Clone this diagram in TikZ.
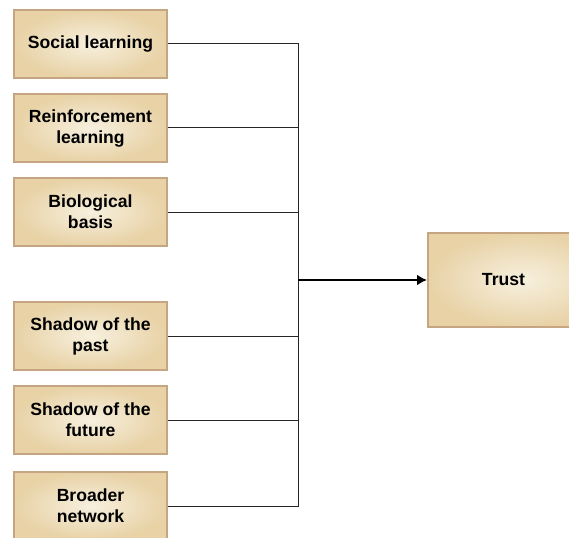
\documentclass[tikz,border=0pt]{standalone}
\usepackage{fontspec}
\setmainfont{Liberation Sans}
\usetikzlibrary{arrows.meta}
\definecolor{boxedge}{HTML}{C6A682}
\definecolor{boxin}{HTML}{F7F0DE}
\definecolor{boxout}{HTML}{E8D2A6}
\tikzset{
  factor/.style={draw=boxedge, line width=1.5pt, inner color=boxin, outer color=boxout,
    minimum width=153pt, minimum height=68pt, align=center,
    font=\fontsize{17.6pt}{21pt}\selectfont\bfseries, inner sep=0pt},
  caption/.style={font=\fontsize{17.6pt}{21pt}\selectfont\bfseries, inner sep=0pt},
  conn/.style={draw=black!85, line width=1pt},
  feed/.style={draw=black, line width=2pt, -{Latex[length=10pt,width=11pt]}}
}
\begin{document}
\begin{tikzpicture}[x=1pt,y=-1pt]
\useasboundingbox (0,0) rectangle (569,537);
\node[factor] (social) at (90.5,44) {Social learning};
\node[factor] (reinf) at (90.5,128) {Reinforcement\\learning};
\node[factor] (bio) at (90.5,212) {Biological\\basis};
\node[factor] (past) at (90.5,336) {Shadow of the\\past};
\node[factor] (future) at (90.5,420) {Shadow of the\\future};
\node[factor] (broad) at (90.5,506) {Broader\\network};
% the outcome box runs past the right edge of the page
\node[factor, minimum width=190pt, minimum height=94pt, anchor=west] (trust) at (427,280) {};
\node[caption] (trustlabel) at (503.5,280) {Trust};
\coordinate (hub) at (298,280);
\foreach \n in {social,reinf,bio,past,future,broad}
  \draw[conn] (\n.east) -| (hub);
\draw[feed] (hub) -- (trust.west);
\end{tikzpicture}
\end{document}
